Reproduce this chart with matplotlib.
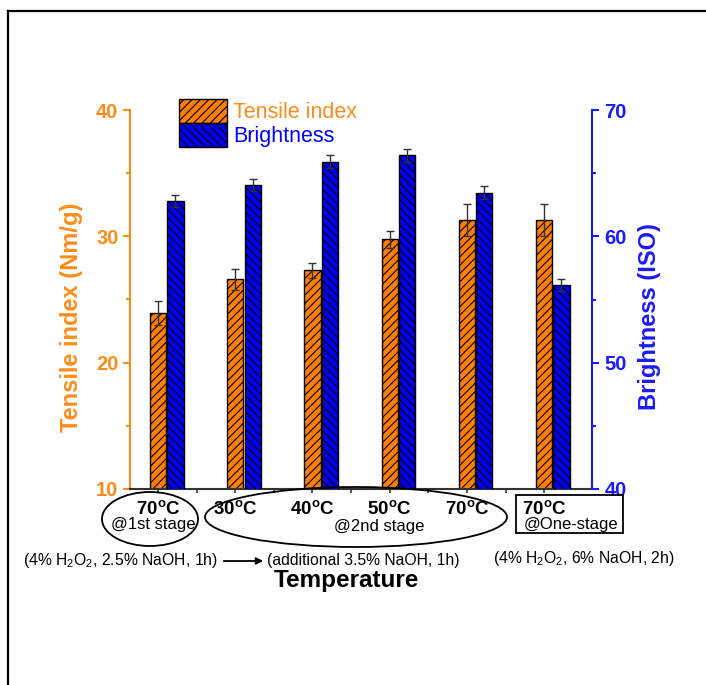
import numpy as np
import matplotlib
matplotlib.use("Agg")
import matplotlib.pyplot as plt
from matplotlib.patches import Ellipse, Rectangle, FancyArrowPatch
from matplotlib.lines import Line2D

plt.rcParams['font.family'] = ['Liberation Sans', 'DejaVu Sans']
plt.rcParams['mathtext.default'] = 'regular'
plt.rcParams['hatch.linewidth'] = 0.8

# pulp bleaching results
temps = ['70$^o$C', '30$^o$C', '40$^o$C', '50$^o$C', '70$^o$C', '70$^o$C']
tensile = [23.9, 26.6, 27.3, 29.75, 31.3, 31.3]
tensile_err = [0.95, 0.85, 0.6, 0.65, 1.25, 1.25]
brightness = [62.8, 64.05, 65.9, 66.4, 63.45, 56.15]
brightness_err = [0.5, 0.5, 0.5, 0.5, 0.5, 0.45]

ORANGE = '#ff8000'
ORANGE_TXT = '#ff8c1a'
BLUE = '#0000ee'
BLUE_TXT = '#1a1aff'

W, H = 706, 685


def px(x, y):
    # pixel position (from top-left) -> figure fraction
    return x / W, 1 - y / H


fig = plt.figure(figsize=(W / 100, H / 100), dpi=100)
ax = fig.add_axes([130 / W, 1 - 489 / H, 462 / W, 379 / H])
ax2 = ax.twinx()

x = np.arange(len(temps))
bw = 0.21
b1 = ax.bar(x, tensile, bw, color=ORANGE, edgecolor='black', linewidth=1.0,
            hatch='////', label='Tensile index', zorder=2)
ax.errorbar(x, tensile, yerr=tensile_err, fmt='none', ecolor='#333333',
            elinewidth=1.0, capsize=2.8, capthick=1.0, zorder=3)
b2 = ax2.bar(x + 0.225, brightness, bw, color=BLUE, edgecolor='black', linewidth=1.0,
             hatch='\\\\\\\\', label='Brightness', zorder=2)
ax2.errorbar(x + 0.225, brightness, yerr=brightness_err, fmt='none', ecolor='#333333',
             elinewidth=1.0, capsize=2.8, capthick=1.0, zorder=3)

ax.set_xlim(-0.363, 5.62)
ax.set_ylim(10, 40)
ax2.set_ylim(40, 70)

ax.set_xticks(x)
ax.set_xticklabels(temps, fontsize=13.5, fontweight='bold')
ax.set_xticks(x[:-1] + 0.5, minor=True)
ax.set_yticks([10, 20, 30, 40])
ax.set_yticks([15, 25, 35], minor=True)
ax2.set_yticks([40, 50, 60, 70])
ax2.set_yticks([45, 55, 65], minor=True)

for a in (ax, ax2):
    a.spines['top'].set_visible(False)
ax.spines['right'].set_visible(False)
ax.spines['left'].set_color(ORANGE_TXT)
ax.spines['left'].set_linewidth(1.5)
ax2.spines['right'].set_color(BLUE_TXT)
ax2.spines['right'].set_linewidth(1.5)
ax2.spines['left'].set_visible(False)
ax2.spines['bottom'].set_visible(False)
ax.spines['bottom'].set_color('#333333')
ax.spines['bottom'].set_linewidth(1.5)

ax.tick_params(axis='y', which='major', colors=ORANGE_TXT, length=5, width=1.5,
               labelsize=14.5, pad=3.3)
ax.tick_params(axis='y', which='minor', colors=ORANGE_TXT, length=3, width=1.5)
ax2.tick_params(axis='y', which='major', colors=BLUE_TXT, length=5, width=1.5,
                labelsize=14.5, pad=4)
ax2.tick_params(axis='y', which='minor', colors=BLUE_TXT, length=3, width=1.5)
ax.tick_params(axis='x', which='both', colors='#333333', length=3, width=1.2,
               pad=5, labelcolor='black')
for lbl in ax.get_yticklabels() + ax2.get_yticklabels():
    lbl.set_fontweight('bold')

ax.set_ylabel('Tensile index (Nm/g)', color=ORANGE_TXT, fontsize=17,
              fontweight='bold')
ax.yaxis.set_label_coords(-0.102, 0.454)
ax2.set_ylabel('Brightness (ISO)', color=BLUE_TXT, fontsize=17,
               fontweight='bold')
ax2.yaxis.set_label_coords(1.0996, 0.456)

leg = ax.legend(handles=[b1, b2], loc='upper left', bbox_to_anchor=px(179, 99),
                bbox_transform=fig.transFigure, frameon=False, fontsize=15.5,
                handlelength=2.23, handleheight=1.34, handletextpad=0.28,
                labelspacing=-0.03, borderpad=0, borderaxespad=0)
leg.get_texts()[0].set_color(ORANGE_TXT)
leg.get_texts()[1].set_color('#0000ff')

# stage groupings under the axis
fig.add_artist(Ellipse(px(150, 519), 96 / W, 54 / H, transform=fig.transFigure,
                       fill=False, edgecolor='black', linewidth=1.3))
fig.add_artist(Ellipse(px(356, 517), 302 / W, 60 / H, transform=fig.transFigure,
                       fill=False, edgecolor='black', linewidth=1.3))
fig.add_artist(Rectangle(px(516, 533), 107 / W, 38 / H, transform=fig.transFigure,
                         fill=False, edgecolor='black', linewidth=1.3))
fig.text(*px(153, 524), '@1st stage', fontsize=12, ha='center', va='center')
fig.text(*px(379, 526), '@2nd stage', fontsize=12, ha='center', va='center')
fig.text(*px(571, 524), '@One-stage', fontsize=12, ha='center', va='center')

# bleaching conditions
fig.text(*px(218, 561), '(4% H$_2$O$_2$, 2.5% NaOH, 1h)', fontsize=11.3,
         ha='right', va='center')
fig.text(*px(267, 561), '(additional 3.5% NaOH, 1h)', fontsize=11.3,
         ha='left', va='center')
fig.text(*px(584, 558), '(4% H$_2$O$_2$, 6% NaOH, 2h)', fontsize=11.3,
         ha='center', va='center')
fig.add_artist(FancyArrowPatch(px(221, 561), px(266, 561), transform=fig.transFigure,
                               arrowstyle='-|>', mutation_scale=10, color='black',
                               linewidth=1.3))
fig.text(*px(346, 581), 'Temperature', fontsize=17.5, fontweight='bold',
         ha='center', va='center')

# outer frame
fig.add_artist(Line2D([7.5 / W, 1], [1 - 10.5 / H] * 2, transform=fig.transFigure,
                      color='black', linewidth=1.6))
fig.add_artist(Line2D([7.5 / W] * 2, [0, 1 - 10.5 / H], transform=fig.transFigure,
                      color='black', linewidth=1.6))

fig.savefig('out.png', dpi=100)
